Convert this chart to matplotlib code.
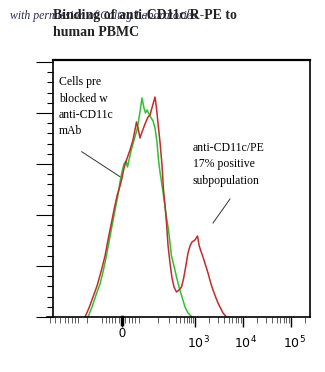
import numpy as np
import matplotlib
matplotlib.use("Agg")
import matplotlib.pyplot as plt
from matplotlib.ticker import MultipleLocator

# histogram traces: x = display channel (0 label at 75), y = event count
green_x = [41, 45, 49, 53, 56, 59, 62, 65, 68, 71, 73, 75, 77, 79, 80.5, 82, 84, 87, 90, 92.5,
           95, 97, 98.5, 100, 103, 106, 108, 110, 111.5, 113, 116, 119, 121.5, 124.5, 127, 129.5,
           132, 135, 138, 141, 145]
green_y = [0, 10, 22, 33, 45, 59, 75, 91, 107, 122, 135, 145, 153, 156, 150, 157, 166, 177, 187, 202,
           219, 209, 204, 207, 201, 196, 189, 175, 157, 145, 125, 103, 87, 61, 51, 40,
           30, 20, 10, 4, 0]

red_x = [38, 42, 46, 50, 54.5, 58, 61, 64, 67, 70, 73, 75, 77, 79.5, 83, 86, 89.5, 91, 93, 95,
         98, 101, 103, 105.5, 108, 109.5, 111, 113, 115, 116.5, 118, 119.5, 121, 123, 125, 127,
         129.5, 132, 134.5, 136.5, 139, 141, 143, 145, 148, 150.5, 152, 153.5, 156, 158.5,
         161, 164, 166, 169, 171, 174, 176, 179.5]
red_y = [0, 9, 20, 31, 47, 61, 77, 92, 107, 121, 131, 139, 149, 157, 167, 177, 195, 189, 179, 185,
         193, 200, 202, 211, 220, 209, 194, 175, 152, 127, 112, 94, 72, 54, 39, 30,
         25, 27, 30, 38, 52, 64, 71, 75, 77, 81, 72, 67, 60, 52,
         44, 33, 27, 19, 14, 8, 4, 0]

# axis label positions (channel of each decade)
major_ch = [75, 148, 196, 244]
major_lbl = ["0", "$10^3$", "$10^4$", "$10^5$"]

W, H = 325, 372
fig = plt.figure(figsize=(W / 100, H / 100), dpi=100)
ax = fig.add_axes([47 / W, 55 / H, 263 / W, 257 / H])

ax.plot(green_x, green_y, color="#2ec22e", lw=1.1)
ax.plot(red_x, red_y, color="#c42a2e", lw=1.1)

ax.set_xlim(0, 263)
ax.set_ylim(0, 257)

# frame
for s in ["top", "right", "left", "bottom"]:
    ax.spines[s].set_linewidth(1.2)
ax.spines["left"].set_position(("data", 6))
ax.spines["top"].set_visible(False)
ax.plot([6, 263], [257, 257], color="black", lw=1.6, clip_on=False)

# y ticks (no labels)
ax.yaxis.set_major_locator(MultipleLocator(51))
ax.yaxis.set_minor_locator(MultipleLocator(10.2))
ax.tick_params(axis="y", which="major", length=12, width=0.8, labelleft=False)
ax.tick_params(axis="y", which="minor", length=4, width=0.8)

# x ticks: biexponential-ish layout
minor = []
for v in [10, 20, 30, 40, 50]:
    minor += [75 + v * 0.33, 75 - v * 0.33]
dec = [(111, 148), (148, 196), (196, 244), (244, 292)]
for p0, p1 in dec:
    for k in range(2, 10):
        minor.append(p0 + (p1 - p0) * np.log10(k))
for v in [3, 8, 13, 18, 21, 25, 28, 31, 54.7]:
    minor.append(v)
minor += [111, 39.7]
minor = [m for m in minor if 0 <= m <= 263]
ax.set_xticks(major_ch)
ax.set_xticklabels([])
ax.set_xticks(minor, minor=True)
ax.tick_params(axis="x", which="major", length=7, width=1.0)
ax.tick_params(axis="x", which="minor", length=4, width=0.6, color="#444444")
ax.plot([75, 75], [0, -7], color="black", lw=2.5, clip_on=False)

for ch, lbl in zip(major_ch, major_lbl):
    dy = -17 if lbl == "0" else -26
    ax.text(ch + (0 if lbl == "0" else 3), dy, lbl, ha="center", va="center",
            fontsize=9, family="Liberation Sans", clip_on=False)

# annotations
ax.plot([34.7, 73], [165.3, 140.3], color="#333333", lw=0.7)
ax.plot([183, 166], [118, 94], color="#333333", lw=0.7)

fig.text(59 / W, 1 - 76 / H, "Cells pre\nblocked w\nanti-CD11c\nmAb", ha="left", va="top",
         fontsize=8.5, family="Liberation Serif", linespacing=1.5)
fig.text(193 / W, 1 - 142 / H, "anti-CD11c/PE\n17% positive\nsubpopulation", ha="left", va="top",
         fontsize=8.5, family="Liberation Serif", linespacing=1.5)

# title and credit line (they overlap in the original)
fig.text(10 / W, 1 - 19 / H, "with permission of Caltag Laboratories", ha="left", va="baseline",
         fontsize=8.5, family="Liberation Serif", style="italic", color="#2a2a55")
fig.text(53 / W, 1 - 19 / H, "Binding of anti-CD11c/R-PE to", ha="left", va="baseline",
         fontsize=10, family="Liberation Serif", weight="bold", color="#222222")
fig.text(53 / W, 1 - 36 / H, "human PBMC", ha="left", va="baseline",
         fontsize=10, family="Liberation Serif", weight="bold", color="#222222")

fig.savefig("out.png", dpi=100)
